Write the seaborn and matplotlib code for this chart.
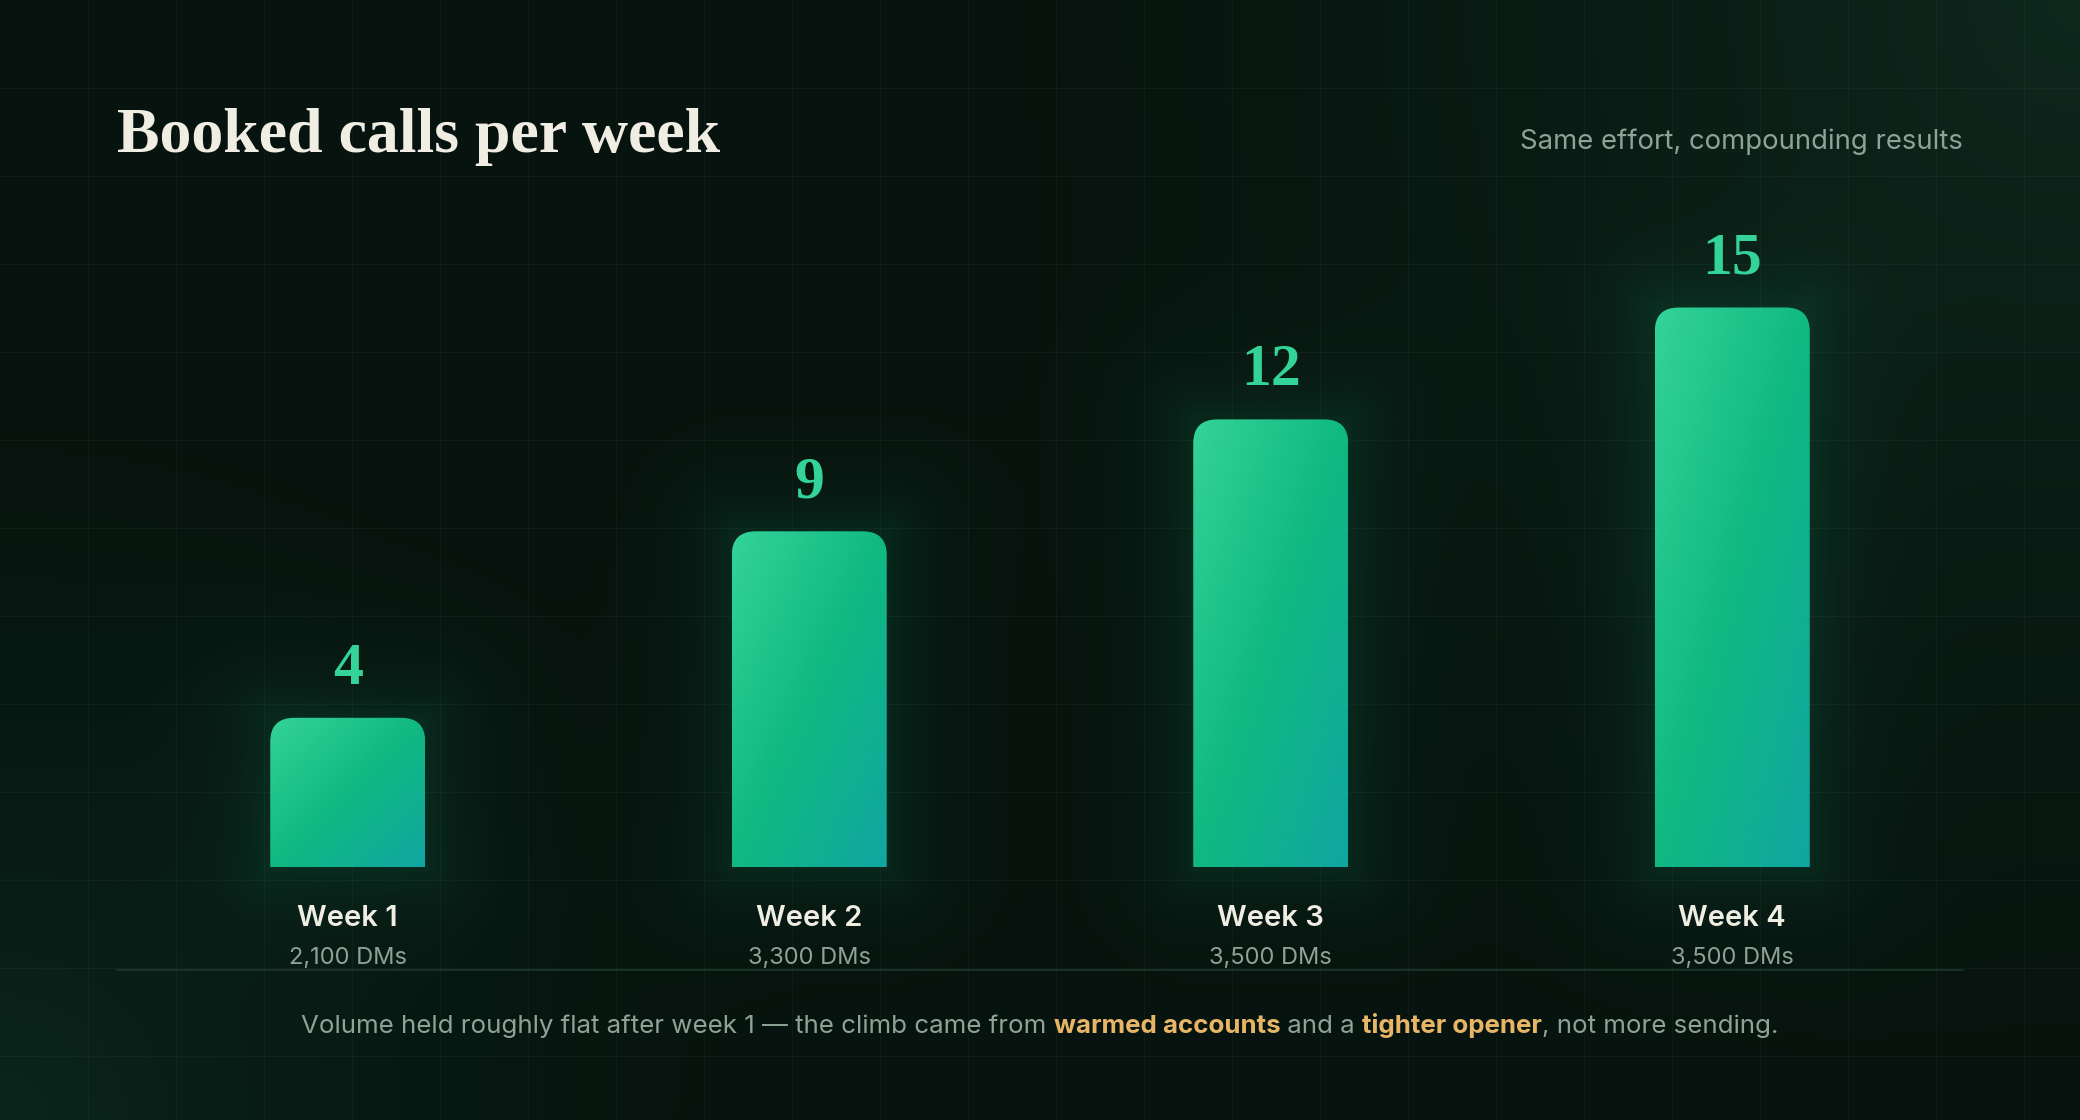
"""
Booked calls per week — dark card bar chart
Output : out.png (2080x1120)
"""

import numpy as np
import pandas as pd
import matplotlib
matplotlib.use("Agg")
import matplotlib.pyplot as plt
import matplotlib.transforms as mtransforms
from matplotlib.patches import FancyBboxPatch
from matplotlib.colors import to_rgb
import seaborn as sns

# ── Data ───────────────────────────────────────────────────────────────────────
WEEKS = ["Week 1", "Week 2", "Week 3", "Week 4"]
CALLS = [4, 9, 12, 15]
DMS = ["2,100 DMs", "3,300 DMs", "3,500 DMs", "3,500 DMs"]

TITLE = "Booked calls per week"
SUBTITLE = "Same effort, compounding results"
NOTE_PARTS = [
    ("Volume held roughly flat after week 1 \u2014 the climb came from ", False),
    ("warmed accounts", True),
    (" and a ", False),
    ("tighter opener", True),
    (", not more sending.", False),
]

# ── Style ──────────────────────────────────────────────────────────────────────
W, H, DPI = 2080, 1120, 100
sns.set_theme(style="dark")
plt.rcParams["font.family"] = ["Inter", "DejaVu Sans"]
SERIF = ["Liberation Serif", "DejaVu Serif"]

BG_BASE = "#07130e"
BG_TR = "#0e281e"
BG_BL = "#0a261d"
GRID = 88
CREAM = "#f0ede2"
MUTED = "#8ea396"
GOLD = "#e6b566"
VALUE = "#34d399"
GRAD = ["#34d399", "#10b981", "#10a6a2"]

PLOT_L, PLOT_R = 117, 1963      # px
BASE_Y, TOP_Y = 867, 121        # px from top
UNIT_PX = 37.3                  # px per booked call
RADIUS_PX = 24


def px_y(y):
    return 1 - y / H


def background():
    yy, xx = np.mgrid[0:H, 0:W].astype(float)
    base = np.array(to_rgb(BG_BASE))
    img = np.ones((H, W, 3)) * base
    d1 = np.hypot(xx - W, yy) / 1300
    w1 = np.clip(1 - d1, 0, 1) ** 1.8
    d2 = np.hypot(xx, yy - H) / 900
    w2 = np.clip(1 - d2, 0, 1) ** 2.0
    img = img + w1[..., None] * (np.array(to_rgb(BG_TR)) - base)
    img = img + w2[..., None] * (np.array(to_rgb(BG_BL)) - base)
    return img, xx, yy


def add_glow(img, xx, yy, rects):
    green = np.array(to_rgb("#10b981"))
    for x0, x1, y0, y1 in rects:
        dx = np.maximum(np.maximum(x0 - xx, 0), xx - x1)
        dy = np.maximum(np.maximum(y0 - yy, 0), yy - y1)
        d = np.hypot(dx, dy)
        a = 0.12 * np.exp(-d / 42.0)
        img = img * (1 - a[..., None]) + green * a[..., None]
    return img


def gradient(nx, ny):
    u = np.linspace(0, 1, nx)[None, :]
    v = np.linspace(0, 1, ny)[:, None]
    t = (u + v) / 2
    c = [np.array(to_rgb(g)) for g in GRAD]
    lo = np.clip(t / 0.5, 0, 1)[..., None]
    hi = np.clip((t - 0.5) / 0.5, 0, 1)[..., None]
    first = c[0] + (c[1] - c[0]) * lo
    out = np.where((t <= 0.5)[..., None], first, c[1] + (c[2] - c[1]) * hi)
    return out


fig = plt.figure(figsize=(W / DPI, H / DPI), dpi=DPI)
fig.patch.set_facecolor(BG_BASE)

bg_ax = fig.add_axes([0, 0, 1, 1], zorder=-10)
bg_ax.set_xlim(0, W)
bg_ax.set_ylim(H, 0)
bg_ax.axis("off")

ax = fig.add_axes([PLOT_L / W, px_y(BASE_Y), (PLOT_R - PLOT_L) / W, (BASE_Y - TOP_Y) / H])
ax.patch.set_alpha(0)

df = pd.DataFrame({"week": WEEKS, "calls": CALLS, "dms": DMS})
step_px = (PLOT_R - PLOT_L) / len(WEEKS)
bar_w = 155 / step_px
sns.barplot(data=df, x="week", y="calls", ax=ax, width=bar_w,
            color=GRAD[1], saturation=1)
ax.set_xlim(-0.5, len(WEEKS) - 0.5)
ax.set_ylim(0, (BASE_Y - TOP_Y) / UNIT_PX)
ax.axis("off")

rx = RADIUS_PX / step_px
ry = RADIUS_PX / UNIT_PX

rects = []
for bar, val in zip(ax.patches, df["calls"]):
    x0, bw, bh = bar.get_x(), bar.get_width(), bar.get_height()
    bar.set_visible(False)
    clip = FancyBboxPatch((x0, -1), bw, bh + 1,
                          boxstyle=f"round,pad=0,rounding_size={rx}",
                          mutation_aspect=ry / rx, transform=ax.transData)
    ny = max(int(bh * UNIT_PX), 2)
    im = ax.imshow(gradient(155, ny), extent=(x0, x0 + bw, 0, bh),
                   aspect="auto", origin="upper", interpolation="bilinear", zorder=3)
    im.set_clip_path(clip)
    ax.annotate(f"{val}", (x0 + bw / 2, bh), xytext=(0, 24.5), textcoords="offset points",
                ha="center", va="baseline", fontsize=43, fontweight="bold",
                family=SERIF, color=VALUE, zorder=5)

    (dx0, dy0) = ax.transData.transform((x0, 0))
    (dx1, dy1) = ax.transData.transform((x0 + bw, bh))
    rects.append((dx0, dx1, H - dy1, H - dy0))

img, xx, yy = background()
img = add_glow(img, xx, yy, rects)
bg_ax.imshow(np.clip(img, 0, 1), extent=(0, W, H, 0), aspect="auto", zorder=0)
for gx in np.arange(GRID, W, GRID):
    bg_ax.axvline(gx, color="white", alpha=0.035, lw=0.8, zorder=1)
for gy in np.arange(GRID, H, GRID):
    bg_ax.axhline(gy, color="white", alpha=0.035, lw=0.8, zorder=1)
bg_ax.set_xlim(0, W)
bg_ax.set_ylim(H, 0)

# week labels + volume
trans = mtransforms.blended_transform_factory(ax.transData, fig.transFigure)
for i, row in df.iterrows():
    ax.text(i, px_y(926), row["week"], transform=trans, ha="center", va="baseline",
            fontsize=21, fontweight="semibold", color=CREAM)
    ax.text(i, px_y(964), row["dms"], transform=trans, ha="center", va="baseline",
            fontsize=17, color=MUTED)

# separator
bg_ax.plot([PLOT_L, PLOT_R], [970, 970], color="#1c3429", lw=1.3, zorder=2)

# title / subtitle
fig.text(PLOT_L / W, px_y(152), TITLE, ha="left", va="baseline",
         fontsize=46, fontweight="bold", family=SERIF, color=CREAM)
fig.text(PLOT_R / W, px_y(149), SUBTITLE, ha="right", va="baseline",
         fontsize=19.8, color=MUTED)

# footnote with highlighted phrases
renderer = fig.canvas.get_renderer()
NOTE_SIZE = 18.65


def text_width(s, bold):
    weight = "bold" if bold else "normal"
    t = fig.text(0, 0, s + "|", fontsize=NOTE_SIZE, fontweight=weight)
    bar = fig.text(0, 0, "|", fontsize=NOTE_SIZE, fontweight=weight)
    w = t.get_window_extent(renderer).width - bar.get_window_extent(renderer).width
    t.remove()
    bar.remove()
    return w


widths = [text_width(s, b) for s, b in NOTE_PARTS]
x = W / 2 - sum(widths) / 2
for (s, b), w in zip(NOTE_PARTS, widths):
    fig.text(x / W, px_y(1033), s, ha="left", va="baseline", fontsize=NOTE_SIZE,
             fontweight="bold" if b else "normal", color=GOLD if b else MUTED)
    x += w

fig.savefig("out.png", dpi=DPI, facecolor=fig.get_facecolor())
